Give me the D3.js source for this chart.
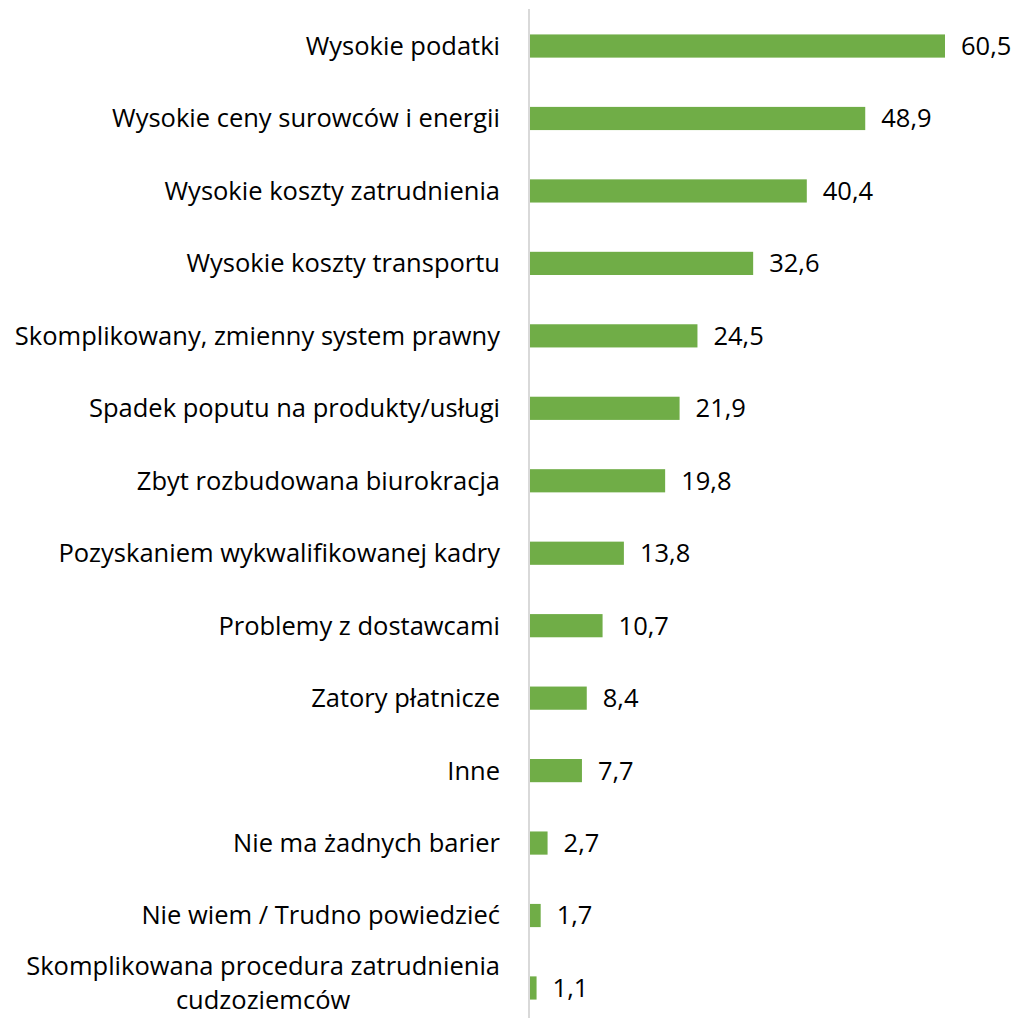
<!DOCTYPE html>
<html><head><meta charset="utf-8">
<script src="https://cdn.jsdelivr.net/npm/d3@7"></script>
<style>body{margin:0;background:#fff}svg{display:block}text{font-family:"Open Sans",sans-serif;fill:#000}</style>
</head><body>
<svg id="c" width="1019" height="1018"></svg>
<script>
const categories = [
  "Wysokie podatki",
  "Wysokie ceny surowców i energii",
  "Wysokie koszty zatrudnienia",
  "Wysokie koszty transportu",
  "Skomplikowany, zmienny system prawny",
  "Spadek poputu na produkty/usługi",
  "Zbyt rozbudowana biurokracja",
  "Pozyskaniem wykwalifikowanej kadry",
  "Problemy z dostawcami",
  "Zatory płatnicze",
  "Inne",
  "Nie ma żadnych barier",
  "Nie wiem / Trudno powiedzieć",
  "Skomplikowana procedura zatrudnienia\ncudzoziemców"
];
const values = [60.5, 48.9, 40.4, 32.6, 24.5, 21.9, 19.8, 13.8, 10.7, 8.4, 7.7, 2.7, 1.7, 1.1];

const svg = d3.select("#c");
const x0 = 529;
const x = d3.scaleLinear().domain([0, 60.5]).range([x0, 945]);
const y = d3.scaleBand().domain(categories).range([9.8, 1024.2]).paddingInner(0.68).paddingOuter(0.34);

svg.append("line").attr("x1", x0).attr("x2", x0).attr("y1", 9).attr("y2", 1018)
  .attr("stroke", "#d9d9d9").attr("stroke-width", 2);

svg.selectAll("rect.bar").data(values).enter().append("rect")
  .attr("x", x0 + 1).attr("y", (d, i) => y(categories[i]))
  .attr("width", d => x(d) - x0 - 1).attr("height", y.bandwidth())
  .attr("fill", "#70ad47");

svg.selectAll("text.val").data(values).enter().append("text")
  .attr("x", d => x(d) + 16).attr("y", (d, i) => y(categories[i]) + y.bandwidth() / 2)
  .attr("dy", "0.35em").attr("font-size", 25.5)
  .text(d => d.toFixed(1).replace(".", ","));

const labelRight = 500;
categories.forEach((c, i) => {
  const lines = c.split("\n");
  const cy = y(c) + y.bandwidth() / 2;
  const lh = 34;
  const shift = lines.length > 1 ? -5 : 0;
  const g = svg.append("g");
  const texts = lines.map((l, j) => g.append("text")
    .attr("font-size", 25.5)
    .attr("y", cy + shift + (j - (lines.length - 1) / 2) * lh)
    .attr("dy", "0.35em").text(l));
  const maxW = d3.max(texts, t => t.node().getComputedTextLength());
  texts.forEach(t => t.attr("text-anchor", "middle").attr("x", labelRight - maxW / 2));
});
</script>
</body></html>
